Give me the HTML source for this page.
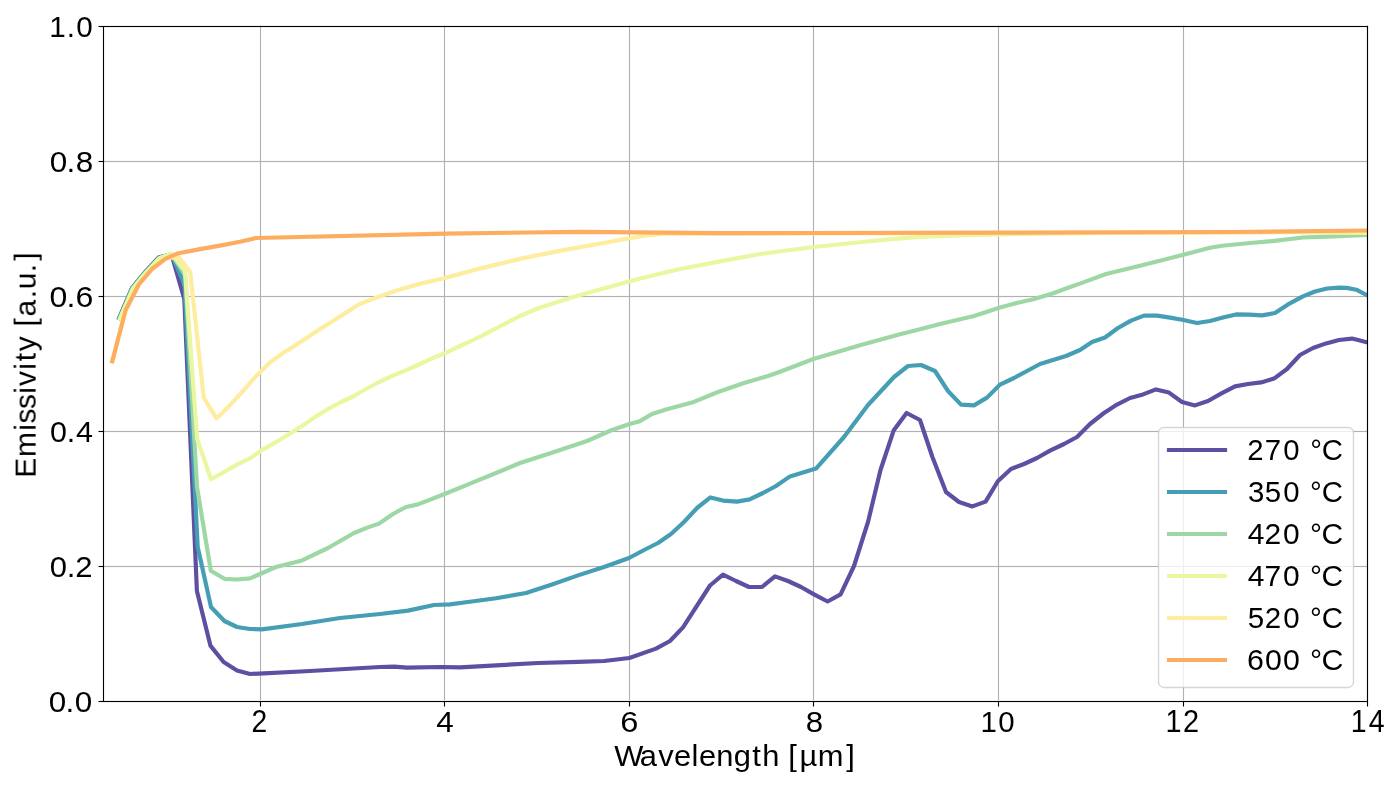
<!DOCTYPE html>
<html lang="en">
<head>
<meta charset="utf-8">
<title>Emissivity vs Wavelength</title>
<style>
html,body{margin:0;padding:0;background:#fff;}
body{width:1400px;height:787px;overflow:hidden;}
svg{display:block;}
svg text{font-family:"Liberation Sans",sans-serif;fill:#000;}
.grid line{stroke:#b0b0b0;stroke-width:1.11;}
.axis line{stroke:#000;stroke-width:1.11;}
.curve{fill:none;stroke-width:4.17;stroke-linejoin:round;stroke-linecap:square;}
.key{stroke-width:4.17;stroke-linecap:square;}
.labels{will-change:transform;}
</style>
</head>
<body>
<svg width="1400" height="787" viewBox="0 0 1400 787">
<rect x="0" y="0" width="1400" height="787" fill="#ffffff"/>
<defs><clipPath id="plot"><rect x="102.70" y="25.60" width="1264.60" height="675.00"/></clipPath></defs>
<g class="grid">
<line x1="260.5" y1="25.60" x2="260.5" y2="700.60"/>
<line x1="444.5" y1="25.60" x2="444.5" y2="700.60"/>
<line x1="629.5" y1="25.60" x2="629.5" y2="700.60"/>
<line x1="813.5" y1="25.60" x2="813.5" y2="700.60"/>
<line x1="998.5" y1="25.60" x2="998.5" y2="700.60"/>
<line x1="1183.5" y1="25.60" x2="1183.5" y2="700.60"/>
<line x1="1367.5" y1="25.60" x2="1367.5" y2="700.60"/>
<line x1="102.70" y1="701.5" x2="1367.30" y2="701.5"/>
<line x1="102.70" y1="566.5" x2="1367.30" y2="566.5"/>
<line x1="102.70" y1="431.5" x2="1367.30" y2="431.5"/>
<line x1="102.70" y1="296.5" x2="1367.30" y2="296.5"/>
<line x1="102.70" y1="161.5" x2="1367.30" y2="161.5"/>
<line x1="102.70" y1="26.5" x2="1367.30" y2="26.5"/>
</g>
<g class="grid" opacity="0.055">
<line x1="102.70" y1="565.5" x2="1367.30" y2="565.5" stroke-width="1"/>
<line x1="102.70" y1="567.5" x2="1367.30" y2="567.5" stroke-width="1"/>
<line x1="102.70" y1="430.5" x2="1367.30" y2="430.5" stroke-width="1"/>
<line x1="102.70" y1="432.5" x2="1367.30" y2="432.5" stroke-width="1"/>
<line x1="102.70" y1="295.5" x2="1367.30" y2="295.5" stroke-width="1"/>
<line x1="102.70" y1="297.5" x2="1367.30" y2="297.5" stroke-width="1"/>
<line x1="102.70" y1="160.5" x2="1367.30" y2="160.5" stroke-width="1"/>
<line x1="102.70" y1="162.5" x2="1367.30" y2="162.5" stroke-width="1"/>
</g>
<g clip-path="url(#plot)">
<polyline class="curve" stroke="#5e4fa2" points="119.2,318.0 132.0,288.0 145.2,272.0 158.7,257.5 171.5,254.4 184.3,299.0 196.9,591.0 210.4,645.6 223.6,662.0 237.0,670.4 250.0,674.0 310.0,671.0 380.0,667.0 394.0,666.6 407.0,667.6 440.0,667.0 460.0,667.4 538.0,663.0 578.6,661.9 604.0,661.0 629.3,658.0 656.0,648.6 670.0,641.0 683.0,627.4 710.0,585.5 723.0,574.6 736.0,581.0 749.0,587.0 762.0,587.0 775.0,576.4 788.0,581.0 801.0,587.0 814.0,594.4 827.6,601.5 840.6,594.4 854.0,566.0 868.0,522.0 880.5,470.0 893.6,430.6 906.6,413.0 920.0,420.0 932.4,457.0 946.0,492.0 959.0,502.0 972.4,506.4 985.6,501.6 998.0,481.0 1011.0,469.0 1024.0,464.0 1037.0,458.0 1050.0,450.6 1064.0,444.0 1077.0,437.0 1090.0,424.0 1104.0,413.0 1117.0,404.6 1130.0,398.0 1143.0,394.4 1156.0,389.4 1169.0,392.6 1182.0,402.0 1195.0,405.4 1208.0,401.0 1221.0,393.6 1235.0,386.4 1248.0,384.0 1261.0,382.4 1274.0,378.6 1287.0,369.0 1300.0,355.0 1313.0,348.0 1326.0,343.4 1339.0,340.0 1352.0,338.6 1360.0,340.6 1367.5,342.5"/>
<polyline class="curve" stroke="#459eb4" points="119.3,318.1 132.1,288.1 145.3,272.1 158.8,257.6 171.5,254.3 184.5,284.5 197.7,547.0 211.0,607.0 224.4,621.0 237.0,627.0 250.0,629.0 262.0,629.4 302.0,624.0 340.0,618.0 380.0,614.0 408.0,610.6 434.0,605.0 450.0,604.4 466.0,602.2 496.0,598.2 526.0,593.0 552.0,584.4 578.0,575.4 604.0,567.0 629.0,558.0 646.0,549.0 658.0,543.0 671.0,534.0 684.0,522.0 697.0,508.0 710.4,497.4 723.0,500.6 737.0,501.6 749.6,499.4 763.0,493.0 776.0,486.0 790.0,476.4 803.0,472.4 816.0,468.6 844.0,437.0 868.0,405.0 894.0,377.0 908.0,366.0 921.0,365.0 935.0,371.0 948.0,391.0 961.0,404.6 974.0,405.4 987.0,397.6 1000.0,384.6 1014.0,378.0 1027.0,371.0 1040.0,364.0 1066.0,356.0 1080.0,350.0 1092.0,342.0 1105.0,337.5 1118.0,328.0 1131.0,320.6 1144.0,315.6 1157.0,315.6 1170.0,317.6 1183.4,320.0 1197.0,323.0 1210.0,321.0 1223.0,317.6 1236.0,314.4 1249.0,314.6 1262.0,315.4 1275.0,313.0 1288.0,304.4 1302.9,296.4 1315.0,291.5 1327.1,288.5 1339.3,287.6 1346.6,287.9 1356.3,289.7 1367.5,295.5"/>
<polyline class="curve" stroke="#9cd7a4" points="120.0,318.4 132.8,288.4 145.8,272.6 159.2,258.3 171.5,254.0 185.2,275.0 197.0,487.0 210.8,570.7 224.4,578.8 237.0,579.5 250.0,578.4 276.0,567.0 302.0,560.4 328.0,548.0 354.0,533.0 368.0,527.4 379.0,523.6 393.0,514.0 406.0,507.0 418.0,504.4 444.6,494.0 470.0,483.6 496.0,473.0 520.0,463.0 548.0,454.0 587.0,441.0 612.0,430.0 629.6,424.0 639.0,421.6 652.0,414.0 666.0,409.6 692.0,402.6 718.0,392.0 744.0,383.0 768.0,376.0 780.0,371.8 813.4,359.0 860.0,345.2 900.0,334.3 920.0,329.2 940.0,324.0 974.0,316.0 1000.0,307.4 1016.7,303.0 1033.3,299.2 1053.3,293.3 1066.7,288.3 1083.3,282.4 1106.0,274.0 1140.0,265.8 1183.4,254.8 1210.0,247.8 1222.0,245.8 1250.0,243.0 1272.5,241.1 1302.9,237.5 1327.0,236.6 1367.5,235.0"/>
<polyline class="curve" stroke="#ebf7a0" points="120.1,318.4 132.8,288.5 145.9,272.7 159.2,258.4 171.5,253.5 185.0,271.0 197.2,439.0 211.0,479.3 224.0,472.0 237.0,464.6 250.0,458.4 263.0,449.3 276.0,442.2 290.0,433.4 302.0,426.0 315.0,417.0 328.0,409.0 341.0,402.0 354.0,396.0 366.0,389.0 379.0,382.0 392.0,376.0 405.0,370.6 418.0,365.0 432.0,358.4 444.6,353.3 458.0,347.0 470.0,341.5 481.6,335.8 520.0,316.0 540.0,307.5 580.0,295.0 620.0,284.0 640.0,278.5 680.0,269.0 720.0,261.4 760.0,254.0 813.4,247.0 860.0,242.2 888.6,239.4 917.0,237.2 945.7,235.8 974.3,235.0 1003.0,234.3 1031.0,233.8 1060.0,233.4 1100.0,233.0 1230.0,232.5 1290.0,232.1 1367.5,232.8"/>
<polyline class="curve" stroke="#feec9f" points="112.3,361.2 125.6,310.3 138.8,284.5 152.0,269.0 165.3,258.8 178.2,256.6 190.2,271.8 203.7,397.5 216.5,418.4 230.0,405.2 243.0,391.0 256.0,376.0 270.0,362.6 283.0,353.0 296.0,344.9 314.0,333.1 340.0,316.4 358.8,304.4 380.0,296.2 400.0,289.4 417.5,284.4 443.8,278.3 481.6,268.1 523.2,258.1 564.8,249.9 606.4,242.5 629.7,238.3 648.0,235.3 665.0,233.6 720.0,233.6 810.0,233.4 1000.0,233.1 1230.0,232.4 1290.0,232.0 1367.5,232.4"/>
<polyline class="curve" stroke="#fdad60" points="112.3,361.2 125.6,310.3 138.8,284.5 152.0,269.0 165.3,258.8 178.4,253.2 200.0,249.1 220.0,245.6 240.0,241.7 256.0,238.0 446.0,233.6 580.0,231.8 720.0,233.2 810.0,233.0 1000.0,232.7 1230.0,232.0 1367.5,230.5"/>
</g>
<g class="axis">
<line x1="260.5" y1="701.5" x2="260.5" y2="706.5"/>
<line x1="444.5" y1="701.5" x2="444.5" y2="706.5"/>
<line x1="629.5" y1="701.5" x2="629.5" y2="706.5"/>
<line x1="813.5" y1="701.5" x2="813.5" y2="706.5"/>
<line x1="998.5" y1="701.5" x2="998.5" y2="706.5"/>
<line x1="1183.5" y1="701.5" x2="1183.5" y2="706.5"/>
<line x1="1367.5" y1="701.5" x2="1367.5" y2="706.5"/>
<line x1="103.5" y1="701.5" x2="98.5" y2="701.5"/>
<line x1="103.5" y1="566.5" x2="98.5" y2="566.5"/>
<line x1="103.5" y1="431.5" x2="98.5" y2="431.5"/>
<line x1="103.5" y1="296.5" x2="98.5" y2="296.5"/>
<line x1="103.5" y1="161.5" x2="98.5" y2="161.5"/>
<line x1="103.5" y1="26.5" x2="98.5" y2="26.5"/>
<line x1="103.5" y1="25.95" x2="103.5" y2="702.05"/>
<line x1="1367.5" y1="25.95" x2="1367.5" y2="702.05"/>
<line x1="102.95" y1="26.5" x2="1368.05" y2="26.5"/>
<line x1="102.95" y1="701.5" x2="1368.05" y2="701.5"/>
</g>
<g class="axis" opacity="0.055">
<line x1="102.95" y1="25.5" x2="1368.05" y2="25.5" stroke-width="1"/>
<line x1="102.95" y1="27.5" x2="1368.05" y2="27.5" stroke-width="1"/>
<line x1="102.95" y1="700.5" x2="1368.05" y2="700.5" stroke-width="1"/>
<line x1="102.95" y1="702.5" x2="1368.05" y2="702.5" stroke-width="1"/>
</g>
<rect x="1158.50" y="427.50" width="195.00" height="260.00" rx="5.56" ry="5.56" fill="#ffffff" fill-opacity="0.8" stroke="#cccccc" stroke-opacity="0.8" stroke-width="1.39"/>
<g class="legend">
<line class="key" x1="1169" y1="450" x2="1225" y2="450" stroke="#5e4fa2"/>
<line class="key" x1="1169" y1="492" x2="1225" y2="492" stroke="#459eb4"/>
<line class="key" x1="1169" y1="534" x2="1225" y2="534" stroke="#9cd7a4"/>
<line class="key" x1="1169" y1="576" x2="1225" y2="576" stroke="#ebf7a0"/>
<line class="key" x1="1169" y1="618" x2="1225" y2="618" stroke="#feec9f"/>
<line class="key" x1="1169" y1="660" x2="1225" y2="660" stroke="#fdad60"/>
</g>
<g class="labels">
<text transform="translate(251,732.10) scale(0.2826,0.3057)" font-size="100" x="2.1">2</text>
<text transform="translate(436,732.40) scale(0.3137,0.3000)" font-size="100" x="1.2">4</text>
<text transform="translate(620,731.80) scale(0.3261,0.3014)" font-size="100" x="1.1">6</text>
<text transform="translate(805,731.80) scale(0.3125,0.3014)" font-size="100" x="2.4">8</text>
<text transform="translate(980,731.80) scale(0.2943,0.3014)" font-size="100" x="1.6 62">10</text>
<text transform="translate(1165,732.10) scale(0.2892,0.3057)" font-size="100" x="2.1 61.9">12</text>
<text transform="translate(1350,732.10) scale(0.2850,0.3101)" font-size="100" x="2.6 65.5">14</text>
<text transform="translate(48,711.80) scale(0.3144,0.3014)" font-size="100" x="2.2 56 84.9">0.0</text>
<text transform="translate(49,576.80) scale(0.3106,0.3014)" font-size="100" x="2.6 56.8 84.7">0.2</text>
<text transform="translate(49,441.80) scale(0.3047,0.3014)" font-size="100" x="3.2 58.2 89">0.4</text>
<text transform="translate(49,306.80) scale(0.3208,0.3014)" font-size="100" x="1.6 54.6 82.7">0.6</text>
<text transform="translate(49,171.80) scale(0.3144,0.3014)" font-size="100" x="2.2 56 84.9">0.8</text>
<text transform="translate(49,36.80) scale(0.2968,0.3014)" font-size="100" x="1.3 60.1 91.6">1.0</text>
<text transform="translate(614,765.74) scale(0.3088,0.2979)" font-size="100" x="1.1 83.3 143.4 194.3 251.3 275.2 331.4 387.9 447.4 480.3 536.8 564.2 600.4 659.5 752">Wavelength [µm]</text>
<text transform="translate(35.74,478.00) rotate(-90) scale(0.2995,0.2979)" font-size="100" x="1.2 70.3 157.6 182 230.4 281.1 307.2 361.2 390 423.5 479 505.5 539.2 600.3 630.2 687.1 725.7">Emissivity [a.u.]</text>
<text transform="translate(1247,459.80) scale(0.2935,0.3014)" font-size="100" x="1 60.6 123.6 184.4 215.1 254.8">270 °C</text>
<text transform="translate(1247,501.80) scale(0.2939,0.3014)" font-size="100" x="3.1 60.5 123.4 184.1 214.7 254.4">350 °C</text>
<text transform="translate(1247,543.80) scale(0.2999,0.3014)" font-size="100" x="2.5 58.7 120.4 180.2 210.1 248.6">420 °C</text>
<text transform="translate(1247,585.80) scale(0.2999,0.3014)" font-size="100" x="2.5 58.7 120.4 180.2 210.1 248.6">470 °C</text>
<text transform="translate(1247,627.80) scale(0.2951,0.3014)" font-size="100" x="2.5 60.1 122.8 183.3 213.8 253.2">520 °C</text>
<text transform="translate(1247,669.80) scale(0.3033,0.3014)" font-size="100" x="0 59.4 118.7 178.1 207.5 245.4">600 °C</text>
</g>
</svg>
</body>
</html>
